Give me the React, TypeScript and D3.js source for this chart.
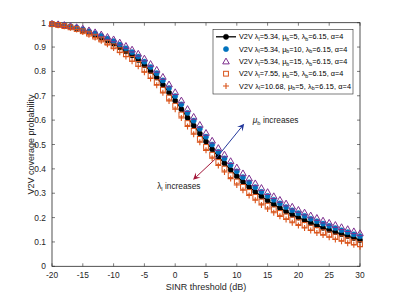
import React from "react";
import * as d3 from "d3";

const snr = d3.range(-20, 31, 1);

const black = [0.995,0.992,0.988,0.983,0.977,0.969,0.960,0.950,0.939,0.927,0.914,0.899,0.883,0.866,0.847,0.825,0.801,0.775,0.745,0.713,0.680,0.645,0.610,0.578,0.545,0.512,0.480,0.450,0.423,0.396,0.370,0.347,0.326,0.306,0.287,0.270,0.254,0.239,0.225,0.212,0.200,0.189,0.178,0.168,0.158,0.149,0.140,0.132,0.124,0.116,0.108];
const blue = [0.996,0.993,0.990,0.985,0.980,0.973,0.965,0.956,0.946,0.935,0.924,0.910,0.895,0.879,0.861,0.840,0.818,0.793,0.763,0.732,0.699,0.665,0.630,0.598,0.565,0.532,0.500,0.470,0.443,0.416,0.390,0.366,0.345,0.325,0.306,0.289,0.273,0.258,0.243,0.230,0.218,0.207,0.195,0.185,0.175,0.166,0.157,0.148,0.140,0.131,0.123];
const purple = [0.996,0.994,0.991,0.987,0.982,0.976,0.969,0.961,0.952,0.942,0.932,0.919,0.905,0.890,0.873,0.853,0.831,0.807,0.778,0.747,0.715,0.681,0.646,0.614,0.581,0.548,0.516,0.486,0.459,0.432,0.406,0.382,0.361,0.341,0.322,0.305,0.288,0.273,0.258,0.245,0.232,0.221,0.209,0.199,0.188,0.179,0.170,0.161,0.153,0.144,0.136];
const square = [0.994,0.991,0.986,0.981,0.974,0.965,0.955,0.943,0.931,0.918,0.903,0.887,0.870,0.852,0.831,0.808,0.783,0.756,0.725,0.693,0.659,0.623,0.588,0.556,0.523,0.490,0.458,0.428,0.401,0.374,0.348,0.326,0.305,0.285,0.266,0.249,0.234,0.219,0.205,0.192,0.181,0.170,0.159,0.149,0.140,0.131,0.122,0.115,0.107,0.099,0.091];
const plus = [0.994,0.990,0.985,0.979,0.972,0.962,0.951,0.939,0.926,0.912,0.896,0.879,0.861,0.842,0.821,0.797,0.771,0.743,0.712,0.679,0.645,0.609,0.574,0.542,0.509,0.476,0.444,0.414,0.387,0.360,0.334,0.312,0.291,0.271,0.252,0.235,0.220,0.205,0.192,0.179,0.168,0.157,0.147,0.137,0.128,0.119,0.110,0.103,0.095,0.088,0.080];

const xTicks = [-20, -15, -10, -5, 0, 5, 10, 15, 20, 25, 30];
const yTicks = [0, 0.1, 0.2, 0.3, 0.4, 0.5, 0.6, 0.7, 0.8, 0.9, 1];

type Leg = { ll: string; mb: string; lb: string; a: string; kind: string; color: string };
const legendItems: Leg[] = [
  { ll: "5.34", mb: "5", lb: "6.15", a: "4", kind: "line", color: "#000000" },
  { ll: "5.34", mb: "10", lb: "6.15", a: "4", kind: "circle", color: "#0072BD" },
  { ll: "5.34", mb: "15", lb: "6.15", a: "4", kind: "triangle", color: "#7E2F8E" },
  { ll: "7.55", mb: "5", lb: "6.15", a: "4", kind: "square", color: "#D95319" },
  { ll: "10.68", mb: "5", lb: "6.15", a: "4", kind: "plus", color: "#D95319" },
];

const W = 399, H = 299;
const left = 52, right = 360, top = 22.7, bottom = 266.3;
const font = "'Liberation Sans', Arial, Helvetica, sans-serif";
const axisColor = "#262626";

function Marker({ kind, color, x, y }: { kind: string; color: string; x: number; y: number }) {
  if (kind === "circle" || kind === "line")
    return <circle cx={x} cy={y} r={2.6} fill={color} stroke={color} strokeWidth={0.5} />;
  if (kind === "triangle") {
    const s = 3.3;
    return <path d={`M${x},${y - s} L${x + s},${y + s * 0.75} L${x - s},${y + s * 0.75} Z`} fill="none" stroke={color} strokeWidth={1} />;
  }
  if (kind === "square") {
    const s = 2.4;
    return <rect x={x - s} y={y - s} width={2 * s} height={2 * s} fill="none" stroke={color} strokeWidth={1} />;
  }
  const s = 3;
  return <path d={`M${x - s},${y} H${x + s} M${x},${y - s} V${y + s}`} stroke={color} strokeWidth={1.1} />;
}

export default function App() {
  const x = d3.scaleLinear().domain([-20, 30]).range([left, right]);
  const y = d3.scaleLinear().domain([0, 1]).range([bottom, top]);
  const line = d3.line<number>().x((_, i) => x(snr[i])).y((d) => y(d));

  const series = [
    { data: black, kind: "line", color: "#000000" },
    { data: blue, kind: "circle", color: "#0072BD" },
    { data: purple, kind: "triangle", color: "#7E2F8E" },
    { data: square, kind: "square", color: "#D95319" },
    { data: plus, kind: "plus", color: "#D95319" },
  ];

  const aStart = [6.7, 0.445];
  const blueEnd = [11.2, 0.585];
  const redEnd = [2.9, 0.355];

  const arrowHead = (x1: number, y1: number, x2: number, y2: number, color: string) => {
    const ang = Math.atan2(y2 - y1, x2 - x1);
    const L = 7, Wd = 3.5;
    const bx = x2 - L * Math.cos(ang), by = y2 - L * Math.sin(ang);
    const px = -Math.sin(ang) * Wd, py = Math.cos(ang) * Wd;
    const nx = x2 - L * 0.6 * Math.cos(ang), ny = y2 - L * 0.6 * Math.sin(ang);
    return (
      <g>
        <line x1={x1} y1={y1} x2={nx} y2={ny} stroke={color} strokeWidth={1} />
        <path d={`M${x2},${y2} L${bx + px},${by + py} L${nx},${ny} L${bx - px},${by - py} Z`} fill={color} />
      </g>
    );
  };

  const legX = 213, legY = 29.5, legW = 140, legH = 64.5, rowH = 12.3;

  return (
    <svg width={W} height={H} style={{ position: "absolute", left: 0, top: 0, background: "#fff" }} fontFamily={font}>
      <rect x={0} y={0} width={W} height={H} fill="#fff" />
      <rect x={left} y={top} width={right - left} height={bottom - top} fill="#fff" stroke={axisColor} strokeWidth={0.8} />
      {xTicks.map((t) => (
        <g key={"x" + t}>
          <line x1={x(t)} x2={x(t)} y1={bottom} y2={bottom - 3} stroke={axisColor} strokeWidth={0.6} />
          <line x1={x(t)} x2={x(t)} y1={top} y2={top + 3} stroke={axisColor} strokeWidth={0.6} />
          <text x={x(t)} y={bottom + 11.5} textAnchor="middle" fontSize={8.4} fill={axisColor}>{t}</text>
        </g>
      ))}
      {yTicks.map((t) => (
        <g key={"y" + t}>
          <line x1={left} x2={left + 3} y1={y(t)} y2={y(t)} stroke={axisColor} strokeWidth={0.6} />
          <line x1={right} x2={right - 3} y1={y(t)} y2={y(t)} stroke={axisColor} strokeWidth={0.6} />
          <text x={left - 6} y={y(t) + 3} textAnchor="end" fontSize={8.4} fill={axisColor}>{t}</text>
        </g>
      ))}
      <text x={(left + right) / 2} y={290} textAnchor="middle" fontSize={9} fill={axisColor}>SINR threshold (dB)</text>
      <text transform={`translate(34,${(top + bottom) / 2}) rotate(-90)`} textAnchor="middle" fontSize={9} fill={axisColor}>V2V coverage probability</text>

      <path d={line(black) || ""} fill="none" stroke="#000" strokeWidth={1.3} />
      {series.map((s, si) => (
        <g key={si}>
          {s.data.map((v, i) => (
            <Marker key={i} kind={s.kind} color={s.color} x={x(snr[i])} y={y(v)} />
          ))}
        </g>
      ))}

      {arrowHead(x(aStart[0]), y(aStart[1]), x(blueEnd[0]), y(blueEnd[1]), "#24399c")}
      {arrowHead(x(aStart[0]), y(aStart[1]), x(redEnd[0]), y(redEnd[1]), "#a3173a")}
      <text x={x(12.6)} y={y(0.59)} fontSize={8.3} fill="#222">
        <tspan fontStyle="italic">μ</tspan>
        <tspan fontSize={5.8} dy={2}>b</tspan>
        <tspan dy={-2}> increases</tspan>
      </text>
      <text x={x(4.1)} y={y(0.318)} fontSize={8.3} fill="#222" textAnchor="end">
        <tspan>λ</tspan>
        <tspan fontSize={5.8} dy={2}>l</tspan>
        <tspan dy={-2}> increases</tspan>
      </text>

      <rect x={legX} y={legY} width={legW} height={legH} fill="#fff" stroke={axisColor} strokeWidth={0.6} />
      {legendItems.map((it, i) => {
        const cy = legY + 7.3 + i * rowH;
        return (
          <g key={i}>
            {it.kind === "line" && <line x1={legX + 3} x2={legX + 23} y1={cy} y2={cy} stroke="#000" strokeWidth={1.3} />}
            <Marker kind={it.kind} color={it.color} x={legX + 13} y={cy} />
            <text x={legX + 26} y={cy + 2.6} fontSize={7.3} fill="#000" textLength={it.kind === "plus" ? 112 : undefined}>
              <tspan>V2V λ</tspan>
              <tspan fontSize={5.2} dy={1.6}>l</tspan>
              <tspan dy={-1.6}>={it.ll}, μ</tspan>
              <tspan fontSize={5.2} dy={1.6}>b</tspan>
              <tspan dy={-1.6}>={it.mb}, λ</tspan>
              <tspan fontSize={5.2} dy={1.6}>b</tspan>
              <tspan dy={-1.6}>={it.lb}, α=4</tspan>
            </text>
          </g>
        );
      })}
    </svg>
  );
}
